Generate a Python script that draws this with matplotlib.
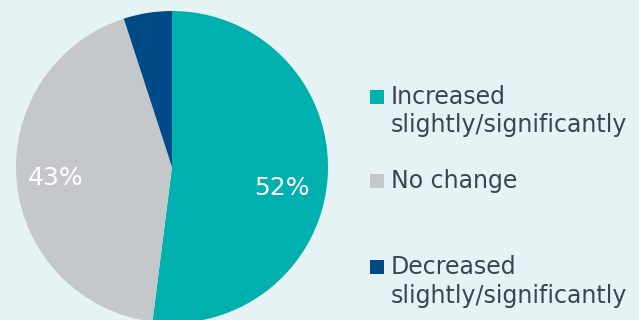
import matplotlib.pyplot as plt
from matplotlib.patches import Rectangle

labels = ["Increased\nslightly/significantly", "No change", "Decreased\nslightly/significantly"]
shares = [52, 43, 5]
colors = ["#00B0AE", "#C5C8CB", "#004A87"]

W, H = 639, 320
bg = "#E5F3F4"
ink = "#3A4550"

fig = plt.figure(figsize=(W / 100, H / 100), dpi=100)
fig.patch.set_facecolor(bg)

# pie: centre at (172, 167) px from top-left, radius 156 px
ax = fig.add_axes([16 / W, -3 / H, 312 / W, 312 / H])
wedges, texts, pcts = ax.pie(shares, colors=colors, startangle=90, counterclock=False,
                             autopct="%d%%", pctdistance=0.75,
                             textprops=dict(color="white", fontsize=18))
ax.set_xlim(-1, 1)
ax.set_ylim(-1, 1)
ax.set_aspect("equal")
pcts[2].set_visible(False)
x, y = pcts[0].get_position()
pcts[0].set_position((x - 0.045, y - 0.085))

# legend drawn by hand so the square sits on the first line
baselines = [103.5, 188.3, 274]
step = 28.5
for lab, col, b in zip(labels, colors, baselines):
    fig.add_artist(Rectangle((370 / W, 1 - b / H), 14 / W, 14 / H,
                             transform=fig.transFigure, color=col, lw=0))
    for i, line in enumerate(lab.split("\n")):
        fig.text(390.5 / W, 1 - (b + i * step) / H, line, fontsize=17, color=ink,
                 va="baseline", ha="left")

fig.savefig("out.png", dpi=100, facecolor=bg)
